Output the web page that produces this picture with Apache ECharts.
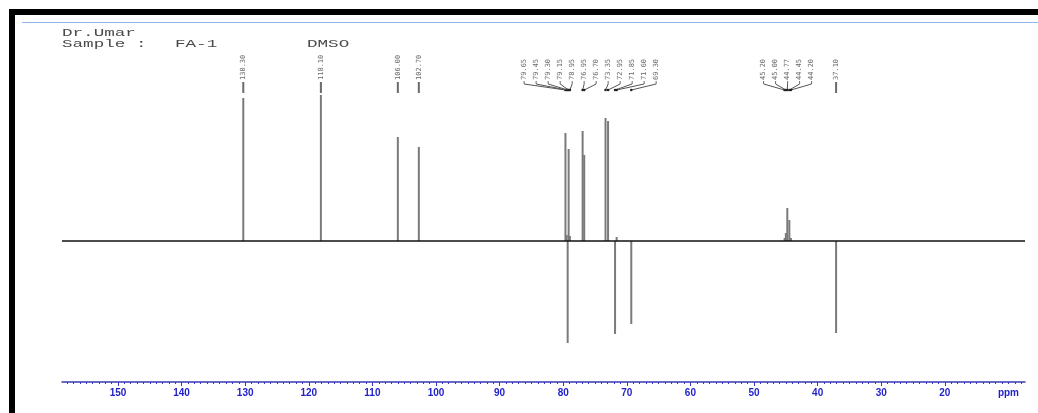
<!DOCTYPE html>
<html>
<head>
<meta charset="utf-8">
<title>FA-1 DEPT 13C spectrum</title>
<script src="https://cdn.jsdelivr.net/npm/echarts@6/dist/echarts.min.js"></script>
<style>
  html, body { margin: 0; padding: 0; background: #ffffff; }
  #chart { width: 1038px; height: 413px; }
</style>
</head>
<body>
<div id="chart"></div>
<script>
// Visible chemical-shift window (ppm), left edge to right edge
const ppmLeft = 158.8;
const ppmRight = 7.4;

// Major tick labels on the ppm axis (the last slot carries the unit)
const tickValues = [150, 140, 130, 120, 110, 100, 90, 80, 70, 60, 50, 40, 30, 20, 10];

// Peak positions (ppm) and signed intensities (CH/CH3 up, CH2 down)
const peakPpm = [130.30, 118.10, 106.00, 102.70,
                 79.65, 79.45, 79.30, 79.15, 78.95,
                 76.95, 76.70,
                 73.35, 72.95, 71.85, 71.60, 69.30,
                 45.20, 45.00, 44.77, 44.45, 44.20,
                 37.10];
const peakInt = [143, 146, 104, 94,
                 108, 6, -102, 92, 5,
                 110, 86,
                 123, 120, -93, 4, -83,
                 3, 8, 33, 21, 3,
                 -92];

// Peak-label groups: indices into the peak arrays sharing one fanned label block
const labelGroups = [[0], [1], [2], [3],
                     [4, 5, 6, 7, 8, 9, 10, 11, 12, 13, 14, 15],
                     [16, 17, 18, 19, 20],
                     [21]];

const chart = echarts.init(document.getElementById('chart'), null, { renderer: 'canvas' });

const minorTicks = [];
for (let v = 8; v <= 158; v++) minorTicks.push(v);

// One label record per peak: [ppm, group centre ppm, index in group, group size]
const labelData = [];
labelGroups.forEach(g => {
  const centre = g.reduce((s, i) => s + peakPpm[i], 0) / g.length;
  g.forEach((pi, k) => labelData.push([peakPpm[pi], centre, k, g.length]));
});

const peakData = peakPpm.map((p, i) => [p, peakInt[i]]);

const LABEL_BOTTOM = 80;
const LABEL_STEP = 12;
const FAN_Y = 90;
const headFont = '11px "Liberation Mono", "DejaVu Sans Mono", monospace';

// wide printer-style header text
function headText(x, y, text) {
  return { type: 'text', x: x, y: y, scaleX: 1.6,
           style: { text: text, font: headFont, fill: '#4a4a4a', verticalAlign: 'middle' } };
}

chart.setOption({
  animation: false,
  backgroundColor: '#ffffff',
  grid: { left: 62, right: 13, top: 40, bottom: 31 },
  xAxis: [{
    type: 'value',
    inverse: true,
    min: ppmRight,
    max: ppmLeft,
    splitLine: { show: false },
    axisLine: { show: true, onZero: false, lineStyle: { color: '#3a3ab8', width: 1.5 } },
    axisTick: { show: true, customValues: minorTicks, length: 2, lineStyle: { color: '#3a3ab8', width: 1 } },
    axisLabel: {
      customValues: tickValues,
      formatter: v => (v === 10 ? 'ppm' : String(v)),
      color: '#2222cc',
      fontFamily: 'Liberation Sans, Arial, sans-serif',
      fontWeight: 'bold',
      fontSize: 10,
      margin: 6
    }
  }, {
    type: 'value',
    inverse: true,
    position: 'bottom',
    min: ppmRight,
    max: ppmLeft,
    splitLine: { show: false },
    axisLine: { show: false, onZero: false },
    axisTick: { show: true, customValues: tickValues.slice(0, 14), length: 4, lineStyle: { color: '#3a3ab8', width: 1 } },
    axisLabel: { show: false }
  }],
  yAxis: {
    type: 'value',
    min: -141,
    max: 201,
    show: false
  },
  graphic: [
    // frame
    { type: 'rect', shape: { x: 9, y: 9, width: 1029, height: 6 }, style: { fill: '#000000' } },
    { type: 'rect', shape: { x: 9, y: 9, width: 6, height: 404 }, style: { fill: '#000000' } },
    { type: 'line', shape: { x1: 22, y1: 22.5, x2: 1038, y2: 22.5 }, style: { stroke: '#8fb2e6', lineWidth: 1 } },
    // acquisition header
    headText(62, 33, 'Dr.Umar'),
    headText(62, 44, 'Sample :'),
    headText(175, 44, 'FA-1'),
    headText(307, 44, 'DMSO')
  ],
  series: [
    {
      // spectrum baseline
      type: 'line',
      data: [[ppmLeft, 0], [ppmRight, 0]],
      showSymbol: false,
      lineStyle: { color: '#111111', width: 1.6 },
      z: 3
    },
    {
      // peak sticks
      type: 'custom',
      data: peakData,
      encode: { x: 0, y: 1 },
      renderItem: (params, api) => {
        const p = api.value(0);
        const h = api.value(1);
        const a = api.coord([p, 0]);
        const b = api.coord([p, h]);
        return {
          type: 'line',
          shape: { x1: a[0], y1: a[1], x2: b[0], y2: b[1] },
          style: { stroke: '#7a7a7a', lineWidth: 2 }
        };
      },
      z: 2
    },
    {
      // peak labels with leader lines
      type: 'custom',
      data: labelData,
      encode: { x: 0 },
      renderItem: (params, api) => {
        const p = api.value(0);
        const centre = api.value(1);
        const k = api.value(2);
        const n = api.value(3);
        const px = api.coord([p, 0])[0];
        const cx = api.coord([centre, 0])[0];
        const lx = n === 1 ? px : cx + (k - (n - 1) / 2) * LABEL_STEP;
        const children = [{
          type: 'text',
          x: lx,
          y: LABEL_BOTTOM,
          rotation: Math.PI / 2,
          style: {
            text: p.toFixed(2),
            font: '7px "DejaVu Sans Mono", monospace',
            fill: '#6a6a6a',
            align: 'left',
            verticalAlign: 'middle'
          }
        }];
        if (n === 1) {
          children.push({ type: 'line', shape: { x1: px, y1: LABEL_BOTTOM + 2, x2: px, y2: FAN_Y + 3 },
                          style: { stroke: '#6a6a6a', lineWidth: 2 } });
        } else {
          children.push({ type: 'line', shape: { x1: lx, y1: LABEL_BOTTOM + 1, x2: lx, y2: LABEL_BOTTOM + 4 },
                          style: { stroke: '#6a6a6a', lineWidth: 1 } });
          children.push({ type: 'line', shape: { x1: lx, y1: LABEL_BOTTOM + 4, x2: px, y2: FAN_Y },
                          style: { stroke: '#555555', lineWidth: 1 } });
          children.push({ type: 'circle', shape: { cx: px, cy: FAN_Y, r: 1.3 }, style: { fill: '#222222' } });
        }
        return { type: 'group', children };
      },
      z: 4
    }
  ]
});
</script>
</body>
</html>
